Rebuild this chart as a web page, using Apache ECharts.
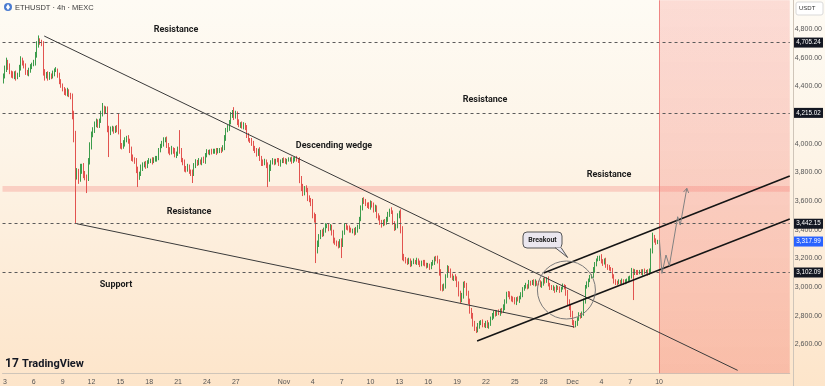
<!DOCTYPE html>
<html><head><meta charset="utf-8">
<script src="https://cdn.jsdelivr.net/npm/echarts@6/dist/echarts.min.js"></script>
<style>
html,body{margin:0;padding:0;width:825px;height:386px;overflow:hidden;
background:linear-gradient(to bottom,#fefbf4 0%,#fdf4e7 40%,#fdebd6 75%,#fde5ca 100%);}
#c{width:825px;height:386px;}
</style></head><body><div id="c"></div>
<script>
// ---- data (ETHUSDT 4h, MEXC) ----
const startTime = '2025-10-02T20:00:00Z';
const stepHours = 4;
const totalSlots = 491;
const firstOpen = 4440;
const closes = [
4470,4520,4570,4540,4500,4480,4470,4490,4465,4480,
4530,4585,4570,4540,4500,4490,4510,4540,4555,4560,
4620,4690,4720,4705,4700,4500,4470,4490,4460,4480,
4470,4490,4510,4514,4480,4430,4410,4380,4360,4350,
4370,4340,4330,4200,4050,3780,3800,3760,3820,3840,
3790,3770,3760,3880,3980,4060,4095,4140,4150,4130,
4160,4210,4250,4230,4240,4110,4080,4100,4100,4090,
4110,4100,4080,3990,3980,4000,4025,4040,4020,3960,
3900,3890,3880,3820,3768,3790,3830,3850,3860,3845,
3870,3880,3886,3875,3890,3895,3900,3950,3984,4000,
4025,4030,3990,3956,3940,3960,3950,3920,3930,3960,
3950,3886,3870,3830,3820,3840,3810,3800,3790,3850,
3872,3860,3880,3870,3890,3880,3920,3942,3935,3950,
3940,3945,3955,3942,3950,3960,3955,3970,4040,4095,
4110,4150,4200,4230,4190,4210,4150,4130,4140,4120,
4130,4110,4060,4030,4025,4000,3970,3950,3930,3956,
3900,3870,3865,3880,3850,3760,3830,3870,3880,3870,
3885,3880,3860,3875,3890,3880,3870,3885,3890,3895,
3880,3886,3900,3890,3886,3750,3700,3660,3690,3677,
3620,3607,3590,3500,3480,3260,3300,3350,3384,3370,
3400,3426,3430,3410,3420,3380,3330,3315,3300,3290,
3320,3300,3380,3426,3420,3410,3400,3390,3398,3380,
3400,3420,3480,3550,3607,3600,3580,3572,3560,3590,
3570,3540,3560,3500,3480,3454,3440,3460,3450,3470,
3510,3537,3520,3450,3412,3420,3500,3523,3400,3217,
3200,3180,3175,3190,3160,3170,3180,3175,3190,3170,
3160,3175,3170,3160,3150,3154,3140,3160,3170,3203,
3200,3180,3100,3000,2990,3010,3080,3133,3120,3080,
3063,3070,3060,3020,2960,2910,2940,3028,3010,2960,
2900,2840,2800,2750,2714,2700,2730,2750,2760,2740,
2735,2750,2730,2745,2780,2800,2826,2810,2830,2820,
2840,2830,2860,2900,2958,2950,2930,2920,2910,2890,
2920,2910,2930,2950,2990,3000,3010,3000,3035,3030,
3040,3020,3035,3030,3028,3010,3030,3050,3040,3060,
3020,3000,2990,2993,2980,3000,2990,2980,2993,3010,
3000,2960,2900,2861,2820,2760,2735,2750,2780,2805,
2800,2820,2900,3000,3020,3050,3070,3080,3120,3160,
3190,3203,3210,3180,3168,3190,3150,3140,3130,3119,
3080,3040,3035,3030,3040,3035,3045,3030,3040,3050,
3060,3070,3119,3100,3110,3105,3100,3110,3100,3115,
3105,3110,3100,3120,3250,3349,3330,3310,3318
];
const upperWicks = [
20,25,30,15,20,10,25,15,20,15,
20,25,15,10,20,15,20,15,10,25,
20,25,35,15,20,15,20,10,15,20,
10,20,15,20,10,15,20,10,15,25,
20,10,15,20,30,40,30,25,40,20,
25,20,15,20,30,25,20,15,25,20,
15,20,34,15,20,20,15,20,25,20,
15,20,114,20,15,25,20,15,20,15,
20,25,15,20,20,15,25,20,15,20,
15,20,10,20,15,20,15,20,15,20,
20,15,20,15,20,25,15,20,15,20,
135,20,15,20,15,20,15,10,20,15,
20,15,20,10,15,20,15,20,15,10,
15,20,10,15,20,10,15,20,20,15,
20,15,20,5,25,20,15,20,10,15,
20,15,20,15,10,15,20,15,20,10,
20,15,20,15,10,20,25,15,20,15,
10,15,20,15,10,15,20,10,15,10,
15,20,10,15,10,20,25,20,15,20,
15,20,15,25,20,30,25,20,15,20,
15,20,10,15,20,15,20,15,10,20,
15,20,15,20,15,10,20,15,10,15,
20,15,10,20,15,20,15,10,20,15,
10,20,15,10,15,20,15,10,15,20,
15,10,20,15,10,20,15,10,20,25,
15,10,20,15,10,15,20,10,15,10,
15,10,15,20,10,15,10,15,20,10,
15,20,15,25,20,15,10,20,15,10,
15,10,20,15,20,15,20,10,15,20,
15,20,15,20,15,10,20,15,10,15,
10,15,20,10,15,20,10,15,10,15,
10,15,20,15,10,15,20,10,15,20,
10,15,10,15,10,15,20,10,15,10,
10,15,20,10,15,20,10,15,20,10,
15,10,15,20,10,15,10,15,10,15,
10,15,20,15,20,15,10,15,10,20,
15,10,20,15,20,10,15,10,20,15,
10,15,10,20,15,10,15,10,15,10,
15,10,15,10,15,10,15,10,15,10,
15,10,15,10,15,10,15,10,15,10,
15,10,15,10,20,31,15,10,12
];
const lowerWicks = [
20,15,20,25,15,20,15,20,25,15,
15,20,25,15,20,15,20,15,20,15,
15,20,20,15,20,25,30,15,20,15,
20,15,20,10,20,15,20,15,20,15,
20,15,20,30,40,338,30,40,25,30,
30,25,104,20,25,20,15,20,25,20,
20,15,20,25,20,30,173,20,15,20,
15,20,15,25,20,15,20,15,20,25,
20,15,20,25,70,20,15,20,15,20,
15,10,15,20,10,15,20,15,10,15,
20,15,20,25,20,15,20,15,20,15,
20,15,20,25,20,15,20,25,64,15,
20,15,10,15,20,15,20,15,10,15,
15,10,15,20,10,15,20,10,15,20,
15,20,15,20,25,15,20,15,20,15,
20,15,20,15,20,15,20,15,20,15,
20,25,20,15,20,62,25,20,15,20,
15,10,15,20,10,15,10,15,10,15,
20,15,10,15,20,25,30,25,20,15,
20,15,25,20,30,92,25,20,15,20,
15,20,15,20,15,20,25,20,15,20,
15,97,20,15,20,15,20,10,15,20,
15,20,15,20,15,20,15,20,15,20,
15,20,15,20,15,20,25,15,20,15,
15,20,10,15,20,15,10,20,25,30,
20,15,20,15,20,15,10,15,20,15,
20,15,20,15,20,15,20,15,10,15,
20,15,20,25,20,15,20,15,20,15,
15,20,15,20,25,20,15,20,15,20,
20,25,20,25,20,20,15,20,15,20,
15,20,15,20,15,10,20,15,10,15,
20,15,10,20,15,20,15,20,15,10,
15,10,20,15,20,15,10,15,10,20,
15,10,15,20,15,10,15,20,15,10,
15,20,10,15,20,15,10,20,15,10,
15,20,25,20,30,25,20,15,20,15,
20,15,20,15,10,20,15,10,15,20,
15,10,20,15,20,10,15,20,15,10,
20,15,20,15,10,15,20,15,10,15,
15,20,10,190,15,20,15,10,15,20,
15,10,20,15,20,15,20,15,10
];
const tickLabels = [
['2025-10-03','3'],['2025-10-06','6'],['2025-10-09','9'],['2025-10-12','12'],['2025-10-15','15'],
['2025-10-18','18'],['2025-10-21','21'],['2025-10-24','24'],['2025-10-27','27'],['2025-11-01','Nov'],
['2025-11-04','4'],['2025-11-07','7'],['2025-11-10','10'],['2025-11-13','13'],['2025-11-16','16'],
['2025-11-19','19'],['2025-11-22','22'],['2025-11-25','25'],['2025-11-28','28'],['2025-12-01','Dec'],
['2025-12-04','4'],['2025-12-07','7'],['2025-12-10','10']
];
const levels = [4705.24, 4215.02, 3442.15, 3102.09];
const lastPrice = 3317.99;
const resistanceBand = [3665, 3705];
const projectionFromSlot = 409;
// trendlines: [slot, price] endpoints
const wedgeUpper = [[25.5, 4751], [458, 2420]];
const wedgeLower = [[45.9, 3442], [356.2, 2722]];
const channelLower = [[295.5, 2624], [490.5, 3475]];
const channelUpper = [[337, 3098], [490.5, 3775]];
const projectionPath = [[409.2, 3329], [410.8, 3096], [413.3, 3224], [415.4, 3149], [420.6, 3491], [422.2, 3433], [426.3, 3689]];
const breakoutCircle = [351.2, 2980];
const annotations = [
  ['Resistance', 176, 30], ['Resistance', 485, 100], ['Descending wedge', 334, 146],
  ['Resistance', 609, 175], ['Resistance', 189, 212], ['Support', 116, 285]
];

// ---- build ----
const pad = n => String(n).padStart(2, '0');
const fmt = d => d.getUTCFullYear() + '-' + pad(d.getUTCMonth() + 1) + '-' + pad(d.getUTCDate()) + ' ' + pad(d.getUTCHours()) + ':' + pad(d.getUTCMinutes());
const t0 = Date.parse(startTime);
const slots = [];
for (let s = 0; s < totalSlots; s++) slots.push(fmt(new Date(t0 + s * stepHours * 3600e3)));
const tickMap = {};
tickLabels.forEach(([d, t]) => { tickMap[d + ' 00:00'] = t; });

const candles = closes.map((c, i) => {
  const o = i ? closes[i - 1] : firstOpen;
  return [o, c, Math.min(o, c) - lowerWicks[i], Math.max(o, c) + upperWicks[i]];
});
const money = v => v.toLocaleString('en-US', { minimumFractionDigits: 2, maximumFractionDigits: 2 });
const FONT = 'Liberation Sans, Roboto, sans-serif';

const chart = echarts.init(document.getElementById('c'), null, { renderer: 'canvas' });
const lineSeries = (data, color, width, z) => ({
  type: 'line', xAxisIndex: 1, data, symbol: 'none', silent: true, z,
  lineStyle: { color, width }, animation: false
});
chart.setOption({
  animation: false,
  backgroundColor: 'transparent',
  grid: { left: 0, right: 32, top: 0.3, bottom: 12.8 },
  xAxis: [{
    type: 'category', data: slots, boundaryGap: true,
    axisLine: { show: true, lineStyle: { color: '#cfc5b9', width: 1 } },
    axisTick: { show: false }, splitLine: { show: false },
    axisLabel: {
      interval: (i, v) => tickMap[v] !== undefined,
      formatter: v => tickMap[v] || '',
      fontSize: 7, color: '#555', margin: 5, fontFamily: FONT
    }
  }, {
    type: 'value', min: -0.5, max: totalSlots - 0.5, show: false
  }],
  yAxis: {
    type: 'value', position: 'right', min: 2400, max: 5000, interval: 200,
    axisLine: { show: false }, axisTick: { show: false }, splitLine: { show: false },
    axisLabel: { showMinLabel: false, showMaxLabel: false, fontSize: 7, color: '#555', margin: 5, fontFamily: FONT, formatter: v => money(v) }
  },
  series: [
    {
      type: 'line', xAxisIndex: 1, data: [[0, 3000]], symbol: 'none', lineStyle: { opacity: 0 }, silent: true, z: 1,
      markArea: {
        silent: true,
        data: [
          [{ yAxis: resistanceBand[0], itemStyle: { color: 'rgba(244,120,110,0.28)' } }, { yAxis: resistanceBand[1] }],
          [{ xAxis: projectionFromSlot, itemStyle: { color: { type: 'linear', x: 0, y: 0, x2: 0, y2: 1, colorStops: [{ offset: 0, color: 'rgba(245,110,105,0.22)' }, { offset: 1, color: 'rgba(242,95,85,0.30)' }] } } }, { xAxis: totalSlots - 0.5 }]
        ]
      },
      markLine: {
        silent: true, symbol: 'none', label: { show: false },
        lineStyle: { type: [3, 3], color: '#5a5a5a', width: 1 },
        data: levels.map(v => ({ yAxis: v })).concat([{ xAxis: projectionFromSlot, lineStyle: { type: 'solid', color: 'rgba(235,110,110,0.8)', width: 1 } }])
      }
    },
    {
      type: 'candlestick', xAxisIndex: 0, data: candles, barWidth: '55%', z: 2,
      itemStyle: { color: '#3c9c4c', color0: '#e2534f', borderColor: '#3c9c4c', borderColor0: '#e2534f', borderWidth: 1 }
    },
    lineSeries(wedgeUpper, '#3a3a3a', 1, 5),
    lineSeries(wedgeLower, '#3a3a3a', 1, 5),
    lineSeries(channelLower, '#151515', 1.6, 5),
    lineSeries(channelUpper, '#151515', 1.6, 5),
    lineSeries(projectionPath, '#808080', 1, 5)
  ]
});

// ---- overlays placed through the chart's scales ----
const px = (slot, price) => chart.convertToPixel({ xAxisIndex: 1, yAxisIndex: 0 }, [slot, price]);
const g = [];
annotations.forEach(([t, x, y]) => g.push({ type: 'text', x, y, z: 100, style: { text: t, fill: '#1c1c1c', font: 'bold 9px Roboto, sans-serif', textAlign: 'center', textVerticalAlign: 'middle' } }));
// breakout circle
const cc = px(breakoutCircle[0], breakoutCircle[1]);
g.push({ type: 'circle', z: 90, shape: { cx: cc[0], cy: cc[1], r: 29 }, style: { fill: 'none', stroke: '#7a7a7a', lineWidth: 1 } });
// callout
g.push({ type: 'rect', z: 95, shape: { x: 523, y: 232, width: 39, height: 16, r: 4 }, style: { fill: '#ebe7ef', stroke: '#555', lineWidth: 1 } });
g.push({ type: 'polygon', z: 96, shape: { points: [[555, 247.5], [567.7, 257.5], [561, 247.5]] }, style: { fill: '#ebe7ef', stroke: '#555', lineWidth: 1 } });
g.push({ type: 'rect', z: 97, shape: { x: 555.6, y: 246, width: 5, height: 1.6 }, style: { fill: '#ebe7ef' } });
g.push({ type: 'text', z: 98, x: 542.5, y: 240, style: { text: 'Breakout', fill: '#222', font: 'bold 7px Roboto, sans-serif', textAlign: 'center', textVerticalAlign: 'middle' } });
// projection arrow head
const pA = px(...projectionPath[projectionPath.length - 2]);
const pB = px(...projectionPath[projectionPath.length - 1]);
const ang = Math.atan2(pB[1] - pA[1], pB[0] - pA[0]);
const head = s => [pB[0] - 5 * Math.cos(ang + s), pB[1] - 5 * Math.sin(ang + s)];
g.push({ type: 'polyline', z: 90, shape: { points: [head(0.55), pB, head(-0.55)] }, style: { fill: 'none', stroke: '#808080', lineWidth: 1 } });
// axis border
g.push({ type: 'line', z: 80, shape: { x1: 793.5, y1: 0, x2: 793.5, y2: 386 }, style: { stroke: '#cfc5b9', lineWidth: 1 } });
// price tags
const tag = (v, fill) => {
  const y = chart.convertToPixel({ yAxisIndex: 0 }, v);
  g.push({ type: 'rect', z: 110, shape: { x: 794, y: y - 5, width: 29, height: 10 }, style: { fill } });
  g.push({ type: 'text', z: 111, x: 808.5, y: y, style: { text: money(v), fill: '#fff', font: '6.3px ' + FONT, textAlign: 'center', textVerticalAlign: 'middle' } });
};
levels.forEach(v => tag(v, '#131722'));
tag(lastPrice, '#2962ff');
// USDT box
g.push({ type: 'rect', z: 110, shape: { x: 796, y: 2, width: 27, height: 13, r: 2 }, style: { fill: '#fff', stroke: '#d9d9d9', lineWidth: 1 } });
g.push({ type: 'text', z: 111, x: 799, y: 8.5, style: { text: 'USDT', fill: '#333', font: '6px ' + FONT, textVerticalAlign: 'middle' } });
// header
g.push({ type: 'circle', z: 110, shape: { cx: 8, cy: 7, r: 4 }, style: { fill: '#4a7bd0' } });
g.push({ type: 'polygon', z: 111, shape: { points: [[8, 4], [10, 7.2], [8, 10], [6, 7.2]] }, style: { fill: '#fff' } });
g.push({ type: 'text', z: 110, x: 15, y: 7.5, style: { text: 'ETHUSDT · 4h · MEXC', fill: '#3a3a3a', font: '7.5px ' + FONT, textVerticalAlign: 'middle' } });
// TradingView logo
g.push({ type: 'text', z: 110, x: 5, y: 364, style: { text: '17', fill: '#131722', font: 'bold 12px Roboto, sans-serif', textVerticalAlign: 'middle' } });
g.push({ type: 'text', z: 110, x: 22, y: 364, style: { text: 'TradingView', fill: '#131722', font: 'bold 11px Roboto, sans-serif', textVerticalAlign: 'middle' } });
chart.setOption({ graphic: g });
</script></body></html>
